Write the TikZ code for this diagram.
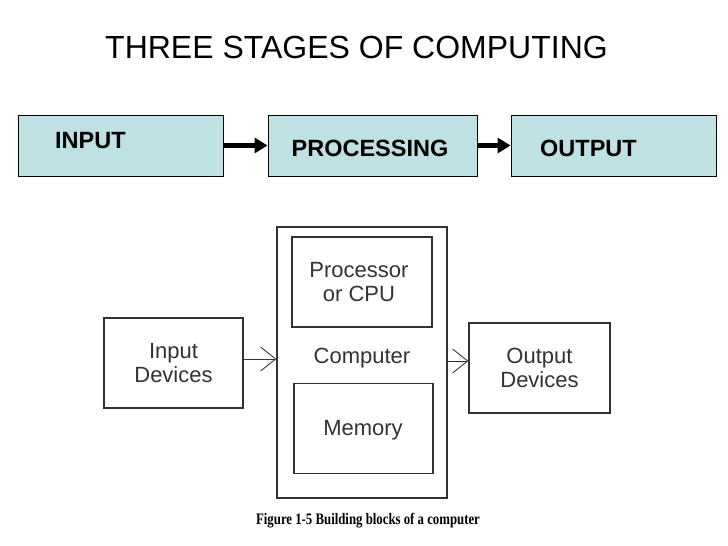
\documentclass[tikz,border=0pt]{standalone}
\usepackage{xcolor}
\usepackage{fontspec}
\setmainfont{Liberation Sans}
\newfontfamily\capfont[FakeStretch=0.8]{Liberation Serif}
\usetikzlibrary{arrows.meta}
\definecolor{stagefill}{RGB}{191,225,228}
\definecolor{inkgray}{RGB}{50,50,50}

\begin{document}
\begin{tikzpicture}[x=1pt,y=-1pt,
  stage/.style={draw=black,fill=stagefill,line width=0.9pt,minimum width=205pt,minimum height=61pt,inner sep=0pt},
  stagetext/.style={font=\bfseries\fontsize{23.5}{26}\selectfont,inner sep=0pt},
  block/.style={draw=inkgray,line width=1.3pt,inner sep=0pt},
  blocktext/.style={text=inkgray,font=\fontsize{22}{24}\selectfont,align=center,inner sep=0pt},
  fat/.style={line width=5pt,-{Triangle[length=13pt,width=15pt]}},
  barb/.style={draw=inkgray,line width=0.9pt,-{Straight Barb[length=15pt,width=24pt]}}]
\useasboundingbox (0,0) rectangle (728,546);
% title
\node[font=\fontsize{32}{36}\selectfont,inner sep=0pt] (title) at (356.5,47.5) {THREE STAGES OF COMPUTING};
% three stages
\node[stage] (input) at (120.5,145.5) {};
\node[stage,minimum width=209pt] (proc) at (372.5,145.5) {};
\node[stage] (output) at (613.5,145.5) {};
\node[stagetext,anchor=west] (inputtxt) at (55,140.5) {INPUT};
\node[stagetext] (proctxt) at (370,148) {PROCESSING};
\node[stagetext,anchor=west] (outputtxt) at (540,148) {OUTPUT};
\draw[fat] (input.east) -- (proc.west);
\draw[fat] (proc.east) -- (output.west);
% building blocks
\node[block,minimum width=139pt,minimum height=90pt] (indev) at (173.5,363) {};
\node[blocktext] at (indev) {Input\\Devices};
\node[block,minimum width=170pt,minimum height=271pt] (comp) at (362,362.5) {};
\node[blocktext] (comptxt) at (362,358) {Computer};
\node[block,minimum width=140pt,minimum height=90pt] (cpu) at (362,282) {};
\node[blocktext] (cputxt) at (359,282) {Processor\\or CPU};
\node[block,minimum width=139pt,minimum height=90pt] (mem) at (363.5,428.5) {};
\node[blocktext] (memtxt) at (363,430) {Memory};
\node[block,minimum width=141pt,minimum height=90pt] (outdev) at (539.5,368) {};
\node[blocktext] at (outdev) {Output\\Devices};
\coordinate (inin) at ([yshift=4pt]indev.east);
\coordinate (outin) at ([yshift=7pt]outdev.west);
\draw[barb] (inin) -- (comp.west |- inin);
\draw[barb] (comp.east |- outin) -- (outin);
% caption
\node[font=\capfont\bfseries\fontsize{16}{18}\selectfont,inner sep=0pt] (caption) at (368,521) {Figure 1-5 Building blocks of a computer};
\end{tikzpicture}
\end{document}
